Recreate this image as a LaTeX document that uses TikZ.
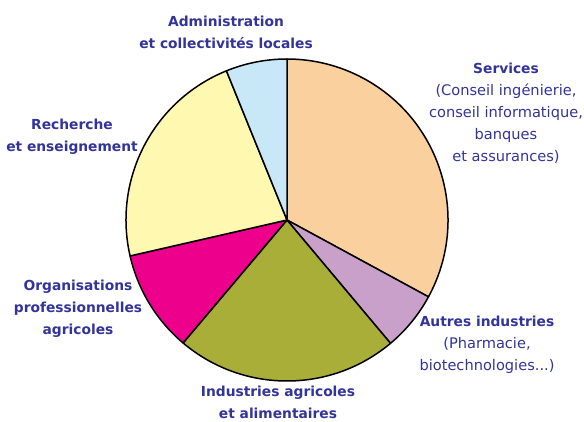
\documentclass[tikz,border=0pt]{standalone}
\usepackage{fontspec}
\setmainfont{DejaVu Sans}
\definecolor{txt}{HTML}{33349A}
\definecolor{cOrange}{HTML}{FAD09F}
\definecolor{cLilac}{HTML}{C8A0CA}
\definecolor{cGreen}{HTML}{A8AE38}
\definecolor{cMagenta}{HTML}{EC008C}
\definecolor{cYellow}{HTML}{FFF8B0}
\definecolor{cBlue}{HTML}{C8E8F8}
\newcommand{\rg}[1]{{\fontsize{14.6}{22}\selectfont #1}}
\tikzset{
  lbl/.style={text=txt, align=center, inner sep=0pt, anchor=base, font=\fontsize{13.8}{22}\selectfont},
  slice/.style={draw=black, line width=1.5pt, line join=round}
}
\newcommand{\pieslice}[3]{%
  \filldraw[slice, fill=#3] (287,-220) -- ++(#1:161) arc[start angle=#1, end angle=#2, radius=161] -- cycle;}
\begin{document}
\begin{tikzpicture}[x=1pt,y=1pt]
\useasboundingbox (0,0) rectangle (584,-421);
\fill[white] (0,0) rectangle (584,-421);
\pieslice{-28.5}{90}{cOrange}
\pieslice{-50}{-28.5}{cLilac}
\pieslice{-130.2}{-50}{cGreen}
\pieslice{-167.1}{-130.2}{cMagenta}
\pieslice{112.1}{192.9}{cYellow}
\pieslice{90}{112.1}{cBlue}
\node[lbl] (admin) at (226,-48) {\textbf{Administration}\\\textbf{et collectivités locales}};
\node[lbl] (serv) at (506,-161) {\textbf{Services}\\\rg{(Conseil ingénierie,}\\\rg{conseil informatique,}\\\rg{banques}\\\rg{et assurances)}};
\node[lbl] (rech) at (72,-151) {\textbf{Recherche}\\\textbf{et enseignement}};
\node[lbl] (orga) at (78,-334) {\textbf{Organisations}\\\textbf{professionnelles}\\\textbf{agricoles}};
\node[lbl] (indus) at (278,-418) {\textbf{Industries agricoles}\\\textbf{et alimentaires}};
\node[lbl] (autres) at (487,-370) {\textbf{Autres industries}\\\rg{(Pharmacie,}\\\rg{biotechnologies...)}};
\end{tikzpicture}
\end{document}
